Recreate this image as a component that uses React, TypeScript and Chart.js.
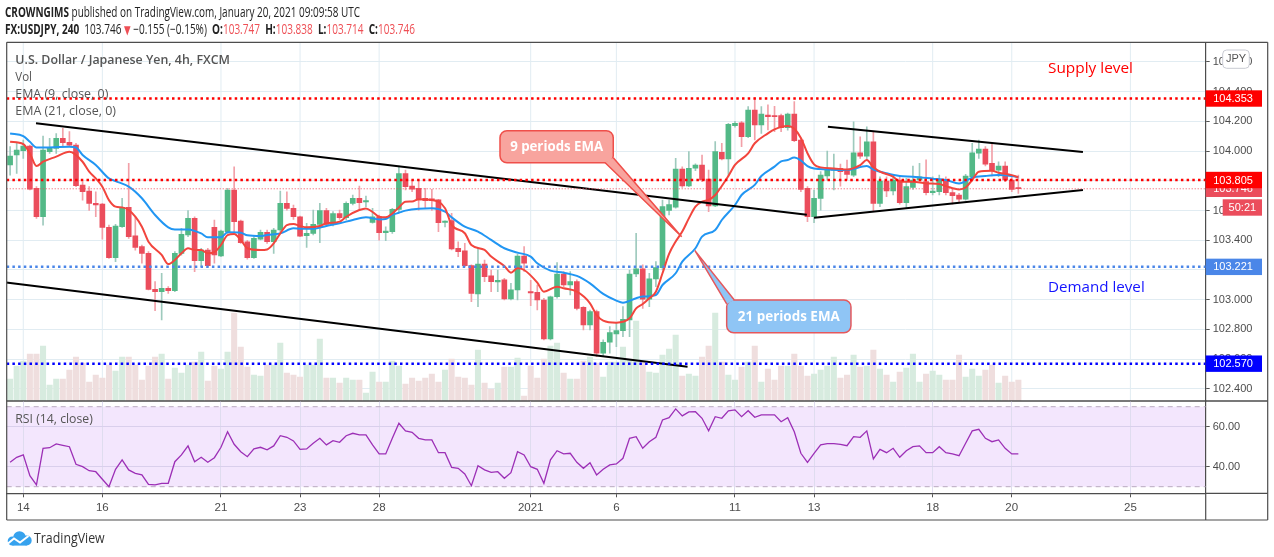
import React, { useEffect, useRef } from "react";
import { Chart, registerables } from "chart.js";

Chart.register(...registerables);

// ---------------- DATA ----------------
const opens = [
  103.906, 103.973, 104.002, 104.033, 103.749, 103.558, 103.996, 104.018, 104.085, 104.058,
  104.040, 103.771, 103.731, 103.648, 103.643, 103.487, 103.283, 103.491, 103.621, 103.429,
  103.357, 103.312, 103.070, 103.054, 103.077, 103.061, 103.312, 103.435, 103.547, 103.263,
  103.334, 103.487, 103.294, 103.458, 103.738, 103.529, 103.390, 103.283, 103.408, 103.453,
  103.390, 103.469, 103.648, 103.614, 103.558, 103.430, 103.446, 103.507, 103.599, 103.509,
  103.580, 103.552, 103.648, 103.682, 103.658, 103.520, 103.558, 103.451, 103.458, 103.608,
  103.849, 103.764, 103.749, 103.682, 103.678, 103.671, 103.520, 103.532, 103.346, 103.328,
  103.229, 103.039, 103.240, 103.160, 103.120, 103.133, 103.005, 103.066, 103.294, 103.055,
  103.050, 102.998, 102.736, 103.020, 103.173, 103.100, 103.122, 102.949, 102.830, 102.920,
  102.640, 102.714, 102.770, 102.792, 102.864, 103.173, 103.207, 103.003, 103.140, 103.216,
  103.600, 103.622, 103.879, 103.765, 103.884, 103.906, 103.812, 103.630, 103.991, 103.946,
  104.170, 104.190, 104.097, 104.276, 104.175, 104.242, 104.238, 104.238, 104.157, 104.249,
  104.074, 103.749, 103.559, 103.681, 103.832, 103.872, 103.883, 103.872, 103.838, 103.988,
  103.966, 104.062, 103.648, 103.798, 103.731, 103.805, 103.652, 103.755, 103.805, 103.794,
  103.720, 103.726, 103.809, 103.720, 103.704, 103.677, 103.827, 103.985, 104.013, 103.917,
  103.872, 103.899, 103.805, 103.747,
];
const highs = [
  104.029, 104.051, 104.074, 104.040, 103.760, 104.100, 104.085, 104.118, 104.152, 104.130,
  104.051, 103.794, 103.760, 103.726, 103.648, 103.502, 103.507, 103.682, 103.917, 103.558,
  103.368, 103.323, 103.122, 103.178, 103.088, 103.323, 103.480, 103.600, 103.558, 103.346,
  103.346, 103.536, 103.469, 103.749, 103.894, 103.536, 103.400, 103.424, 103.469, 103.469,
  103.480, 103.731, 103.726, 103.637, 103.563, 103.514, 103.603, 103.648, 103.614, 103.592,
  103.603, 103.659, 103.704, 103.764, 103.697, 103.614, 103.570, 103.490, 103.614, 103.899,
  103.872, 103.805, 103.805, 103.749, 103.742, 103.675, 103.530, 103.581, 103.390, 103.380,
  103.234, 103.346, 103.267, 103.200, 103.200, 103.144, 103.110, 103.308, 103.357, 103.130,
  103.099, 103.010, 103.025, 103.250, 103.189, 103.189, 103.133, 102.954, 102.931, 102.931,
  102.730, 102.819, 102.842, 102.954, 103.200, 103.447, 103.234, 103.178, 103.256, 103.670,
  103.670, 103.951, 103.894, 103.996, 103.913, 103.973, 103.872, 104.063, 104.052, 104.186,
  104.200, 104.200, 104.298, 104.360, 104.298, 104.310, 104.300, 104.249, 104.255, 104.332,
  104.085, 103.760, 103.737, 103.861, 104.000, 103.980, 103.912, 103.939, 104.197, 104.096,
  104.163, 104.130, 103.827, 103.827, 103.827, 103.827, 103.816, 103.899, 103.917, 103.940,
  103.827, 103.838, 103.827, 103.749, 103.715, 103.843, 104.051, 104.074, 104.029, 104.051,
  103.928, 103.928, 103.838, 103.838,
];
const lows = [
  103.838, 103.850, 103.950, 103.738, 103.547, 103.502, 103.984, 103.984, 104.029, 104.030,
  103.760, 103.670, 103.600, 103.558, 103.408, 103.278, 103.256, 103.487, 103.413, 103.334,
  103.245, 103.066, 102.927, 102.864, 103.043, 103.055, 103.300, 103.424, 103.189, 103.222,
  103.222, 103.245, 103.290, 103.446, 103.458, 103.379, 103.272, 103.278, 103.402, 103.379,
  103.312, 103.458, 103.603, 103.540, 103.424, 103.352, 103.435, 103.384, 103.496, 103.496,
  103.540, 103.536, 103.637, 103.603, 103.626, 103.514, 103.400, 103.397, 103.446, 103.592,
  103.738, 103.726, 103.603, 103.615, 103.600, 103.458, 103.490, 103.335, 103.290, 103.222,
  102.987, 102.954, 103.122, 103.055, 103.055, 102.998, 102.998, 102.998, 103.190, 102.960,
  102.931, 102.730, 102.730, 103.010, 103.088, 103.032, 102.931, 102.797, 102.797, 102.617,
  102.617, 102.640, 102.684, 102.752, 102.752, 103.155, 102.942, 102.954, 103.088, 103.200,
  103.570, 103.615, 103.756, 103.760, 103.868, 103.794, 103.592, 103.626, 103.940, 103.830,
  104.160, 104.030, 104.090, 104.074, 104.119, 104.141, 104.130, 104.130, 104.140, 104.063,
  103.727, 103.525, 103.518, 103.603, 103.805, 103.738, 103.764, 103.805, 103.827, 103.950,
  103.940, 103.592, 103.625, 103.693, 103.704, 103.643, 103.621, 103.742, 103.805, 103.704,
  103.704, 103.704, 103.704, 103.643, 103.659, 103.670, 103.816, 103.950, 103.899, 103.832,
  103.827, 103.794, 103.726, 103.714,
];
const closes = [
  103.966, 104.006, 104.033, 103.744, 103.558, 104.006, 104.018, 104.085, 104.056, 104.040,
  103.767, 103.726, 103.648, 103.637, 103.487, 103.283, 103.496, 103.621, 103.424, 103.352,
  103.312, 103.070, 103.054, 103.077, 103.061, 103.312, 103.440, 103.547, 103.263, 103.334,
  103.229, 103.301, 103.462, 103.738, 103.525, 103.384, 103.283, 103.413, 103.453, 103.390,
  103.469, 103.648, 103.614, 103.558, 103.428, 103.446, 103.507, 103.599, 103.507, 103.580,
  103.552, 103.648, 103.682, 103.652, 103.663, 103.558, 103.451, 103.462, 103.608, 103.849,
  103.760, 103.744, 103.671, 103.666, 103.666, 103.518, 103.527, 103.341, 103.323, 103.229,
  103.043, 103.240, 103.155, 103.122, 103.130, 103.005, 103.066, 103.294, 103.245, 103.045,
  102.998, 102.736, 103.020, 103.173, 103.100, 103.122, 102.942, 102.830, 102.920, 102.640,
  102.714, 102.779, 102.792, 102.868, 103.173, 103.207, 103.003, 103.140, 103.216, 103.626,
  103.640, 103.879, 103.765, 103.884, 103.906, 103.805, 103.630, 103.996, 103.946, 104.179,
  104.186, 104.097, 104.276, 104.175, 104.249, 104.231, 104.231, 104.157, 104.249, 104.070,
  103.742, 103.559, 103.682, 103.838, 103.872, 103.883, 103.861, 103.843, 103.988, 103.966,
  104.062, 103.648, 103.798, 103.731, 103.805, 103.652, 103.760, 103.805, 103.827, 103.720,
  103.731, 103.809, 103.720, 103.699, 103.677, 103.831, 103.988, 104.013, 103.912, 103.872,
  103.899, 103.805, 103.742, 103.746,
];
const volumes = [
  22, 35, 40, 47, 47, 55, 16, 22, 22, 31,
  44, 38, 19, 26, 23, 36, 30, 44, 44, 36,
  21, 35, 44, 47, 22, 33, 28, 36, 39, 49,
  20, 35, 32, 49, 88, 54, 34, 26, 25, 36,
  36, 58, 28, 26, 24, 36, 36, 62, 23, 23,
  18, 23, 21, 21, 8, 29, 19, 19, 40, 35,
  17, 23, 20, 23, 27, 19, 31, 42, 24, 23,
  16, 51, 18, 12, 18, 34, 34, 43, 5, 35,
  23, 42, 55, 58, 28, 22, 22, 40, 44, 38,
  24, 39, 39, 54, 41, 80, 39, 29, 28, 46,
  52, 66, 25, 27, 25, 44, 55, 88, 39, 26,
  21, 34, 39, 55, 19, 32, 21, 35, 35, 47,
  35, 25, 27, 31, 35, 44, 23, 26, 46, 34,
  35, 51, 32, 26, 19, 29, 33, 47, 19, 27,
  30, 26, 21, 21, 46, 24, 32, 25, 31, 36,
  18, 25, 19, 21,
];
const rsiValues = [
  42.2, 44.7, 45.9, 35.5, 30.9, 49.2, 49.5, 51.4, 50.7, 50.0,
  41.2, 40.0, 38.0, 37.5, 33.7, 30.0, 38.7, 43.4, 38.4, 36.7,
  35.9, 31.2, 30.9, 31.7, 31.7, 42.5, 45.9, 50.4, 42.5, 44.7,
  42.2, 44.5, 49.7, 57.5, 51.2, 47.5, 45.0, 48.9, 49.7, 48.4,
  50.4, 55.5, 54.7, 52.9, 48.7, 48.9, 51.7, 54.2, 50.9, 53.0,
  52.2, 55.5, 56.7, 55.9, 55.9, 50.9, 46.4, 46.4, 54.2, 61.7,
  57.9, 57.2, 54.2, 53.4, 53.4, 47.0, 47.0, 39.7, 39.2, 36.4,
  30.5, 40.5, 38.4, 37.2, 37.5, 34.2, 37.0, 47.5, 45.9, 40.0,
  38.7, 31.7, 43.4, 48.0, 46.4, 46.7, 42.2, 39.2, 42.0, 35.9,
  38.7, 40.9, 41.4, 44.2, 54.2, 55.0, 49.2, 52.5, 54.7, 63.4,
  64.5, 68.9, 65.4, 67.4, 67.5, 64.2, 58.0, 65.0, 64.2, 67.9,
  68.4, 65.0, 68.0, 64.7, 65.9, 65.9, 65.9, 62.5, 64.5, 57.5,
  46.7, 42.2, 46.7, 50.9, 51.5, 51.5, 51.2, 50.5, 55.0, 54.7,
  57.9, 43.9, 48.7, 47.0, 49.2, 44.7, 48.0, 50.0, 50.4, 47.0,
  47.0, 50.0, 47.0, 46.4, 45.5, 51.7, 57.9, 58.7, 54.2, 52.5,
  53.4, 49.2, 46.4, 46.4,
];
// [candle index, value]
const ema9Points: [number, number][] = [
  [0, 104.062], [2, 104.047], [3, 103.984], [4, 103.899], [5, 103.928], [7, 103.962], [9, 103.995],
  [11, 103.928], [12, 103.861], [13, 103.816], [14, 103.76], [15, 103.67], [16, 103.626], [17, 103.621],
  [18, 103.603], [19, 103.558], [20, 103.491], [21, 103.39], [23, 103.301], [24, 103.24], [25, 103.267],
  [26, 103.312], [27, 103.346], [28, 103.334], [29, 103.334], [30, 103.312], [31, 103.32], [32, 103.368],
  [33, 103.435], [34, 103.442], [35, 103.402], [36, 103.346], [38, 103.334], [39, 103.338], [40, 103.379],
  [41, 103.446], [42, 103.502], [43, 103.509], [44, 103.496], [45, 103.487], [47, 103.496], [48, 103.514],
  [50, 103.525], [51, 103.558], [53, 103.603], [54, 103.614], [55, 103.59], [56, 103.558], [57, 103.554],
  [58, 103.58], [59, 103.621], [60, 103.659], [61, 103.66], [62, 103.675], [64, 103.671], [66, 103.615],
  [67, 103.503], [69, 103.447], [70, 103.368], [72, 103.335], [73, 103.29], [75, 103.227], [76, 103.182],
  [77, 103.211], [78, 103.2], [80, 103.115], [81, 103.054], [83, 103.088], [84, 103.077], [86, 103.054],
  [88, 102.976], [89, 102.897], [90, 102.86], [92, 102.846], [94, 102.875], [95, 102.942], [96, 102.971],
  [97, 103.01], [98, 103.054], [99, 103.178], [100, 103.308], [101, 103.391], [102, 103.458], [103, 103.547],
  [104, 103.626], [105, 103.66], [106, 103.671], [107, 103.704], [108, 103.765], [109, 103.832], [110, 103.906],
  [112, 103.984], [113, 104.052], [115, 104.119], [116, 104.146], [118, 104.168], [119, 104.15], [120, 104.088],
  [121, 103.985], [122, 103.91], [123, 103.89], [125, 103.883], [127, 103.876], [129, 103.905], [130, 103.939],
  [131, 103.89], [132, 103.861], [134, 103.827], [135, 103.794], [137, 103.794], [139, 103.782], [141, 103.778],
  [142, 103.764], [144, 103.742], [145, 103.755], [146, 103.805], [147, 103.861], [149, 103.867], [150, 103.854],
  [152, 103.838], [153, 103.823],
];
const ema21Points: [number, number][] = [
  [0, 104.118], [2, 104.1], [3, 104.062], [4, 104.024], [6, 104.024], [9, 104.029], [10, 104.024],
  [11, 103.973], [13, 103.906], [15, 103.816], [16, 103.798], [18, 103.76], [20, 103.682], [22, 103.57],
  [24, 103.487], [25, 103.473], [27, 103.473], [29, 103.446], [30, 103.42], [32, 103.42], [33, 103.453],
  [35, 103.451], [36, 103.433], [38, 103.428], [39, 103.435], [41, 103.446], [43, 103.48], [44, 103.478],
  [46, 103.478], [48, 103.496], [50, 103.514], [52, 103.536], [54, 103.554], [56, 103.54], [57, 103.543],
  [58, 103.57], [59, 103.585], [60, 103.599], [62, 103.612], [64, 103.615], [66, 103.592], [67, 103.554],
  [69, 103.491], [71, 103.458], [73, 103.402], [75, 103.346], [77, 103.317], [79, 103.29], [80, 103.245],
  [82, 103.196], [84, 103.182], [86, 103.16], [88, 103.11], [90, 103.039], [92, 102.994], [93, 102.98],
  [95, 103.01], [96, 103.021], [98, 103.032], [99, 103.099], [101, 103.178], [102, 103.256], [104, 103.346],
  [105, 103.424], [107, 103.469], [108, 103.536], [110, 103.637], [111, 103.704], [113, 103.772], [114, 103.832],
  [116, 103.895], [117, 103.93], [118, 103.939], [119, 103.956], [120, 103.936], [121, 103.899], [122, 103.883],
  [124, 103.876], [127, 103.872], [130, 103.899], [131, 103.876], [133, 103.85], [135, 103.832], [137, 103.827],
  [140, 103.814], [142, 103.805], [144, 103.782], [146, 103.821], [148, 103.832], [150, 103.838], [152, 103.832],
  [153, 103.823],
];
const dayTickIdx = [2, 14, 32, 44, 56, 79, 92, 110, 122, 140, 152, 170];
const dayTickLabels = ["14", "16", "21", "23", "28", "2021", "6", "11", "13", "18", "20", "25"];
const priceTicks = [102.4, 102.6, 102.8, 103.0, 103.2, 103.4, 103.6, 103.8, 104.0, 104.2, 104.4, 104.6];
const rsiTicks = [40, 60];
const levelPrices = [104.353, 103.805, 103.221, 102.57];
const levelColors = ["#ff0000", "#ff0000", "#4a86e8", "#0000ff"];
const lastPrice = 103.746;
const countdown = "50:21";
// trend lines: [candle index, price] pairs
const trendLines: [number, number][][] = [
  [[3.93, 104.186], [120.9, 103.571]],
  [[-0.6, 103.116], [102.8, 102.55]],
  [[124.1, 104.163], [162.8, 103.993]],
  [[122.0, 103.552], [162.8, 103.738]],
];
const callout9Box: [number, number][] = [[74.34, 104.136], [91.53, 103.921]];
const callout9Tail: [number, number][] = [[90.3, 103.921], [101.91, 103.424], [91.53, 103.955]];
const callout21Box: [number, number][] = [[108.74, 102.998], [127.6, 102.778]];
const callout21Tail: [number, number][] = [[108.74, 102.972], [103.93, 103.33], [109.9, 102.998]];
const supplyLabelAt: [number, number] = [157.5, 104.556];
const demandLabelAt: [number, number] = [157.5, 103.081];

// ---------------- STYLE ----------------
const FONT_AXIS = '"Liberation Sans", Arial, sans-serif';
const FONT_UI = '"Open Sans", "Liberation Sans", sans-serif';
const UP = "#53b987";
const DOWN = "#eb4d5c";
const GRID = "#e1ecf2";
const FRAME = "#4d4d4d";
const X_MIN = -0.516;
const X_MAX = 181.43;
const PRICE_MIN = 102.319;
const PRICE_MAX = 104.731;
const VOL_MAX = 358.7;
const RSI_MIN = 26.7;
const RSI_MAX = 72.85;

type Seg = { t: string; f: string; c: string };
function drawSegs(ctx: CanvasRenderingContext2D, segs: Seg[], x: number, y: number, targetW?: number, align: "left" | "center" = "left") {
  ctx.save();
  ctx.textBaseline = "middle";
  ctx.textAlign = "left";
  const ws = segs.map((s) => {
    ctx.font = s.f;
    return ctx.measureText(s.t).width;
  });
  const total = ws.reduce((a, b) => a + b, 0);
  const k = targetW ? targetW / total : 1;
  const sx = align === "center" ? x - (total * k) / 2 : x;
  ctx.translate(sx, y);
  ctx.scale(k, 1);
  let cx = 0;
  segs.forEach((s, j) => {
    ctx.font = s.f;
    ctx.fillStyle = s.c;
    ctx.fillText(s.t, cx, 0);
    cx += ws[j];
  });
  ctx.restore();
}

function line(ctx: CanvasRenderingContext2D, x0: number, y0: number, x1: number, y1: number) {
  ctx.beginPath();
  ctx.moveTo(x0, y0);
  ctx.lineTo(x1, y1);
  ctx.stroke();
}

function drawCallout(ctx: CanvasRenderingContext2D, toPx: (i: number, p: number) => [number, number], box: [number, number][], tail: [number, number][], fill: string, stroke: string, text: string, textW: number) {
  const [x0, y0] = toPx(box[0][0], box[0][1]);
  const [x1, y1] = toPx(box[1][0], box[1][1]);
  ctx.save();
  ctx.lineWidth = 1.5;
  ctx.strokeStyle = stroke;
  ctx.fillStyle = fill;
  ctx.beginPath();
  (ctx as any).roundRect(x0, y0, x1 - x0, y1 - y0, 7);
  ctx.fill();
  ctx.stroke();
  const pts = tail.map(([i, p]) => toPx(i, p));
  ctx.beginPath();
  ctx.moveTo(pts[0][0], pts[0][1]);
  ctx.lineTo(pts[1][0], pts[1][1]);
  ctx.lineTo(pts[2][0], pts[2][1]);
  ctx.closePath();
  ctx.fill();
  ctx.beginPath();
  ctx.moveTo(pts[0][0], pts[0][1]);
  ctx.lineTo(pts[1][0], pts[1][1]);
  ctx.lineTo(pts[2][0], pts[2][1]);
  ctx.stroke();
  ctx.restore();
  drawSegs(ctx, [{ t: text, f: `bold 14px ${FONT_UI}`, c: "#ffffff" }], (x0 + x1) / 2, (y0 + y1) / 2 + 0.5, textW, "center");
}

const isUp = (i: number) => closes[i] >= opens[i];

const mainPlugin = {
  id: "mainDecor",
  beforeDatasetsDraw(chart: any) {
    const { ctx, chartArea: a, scales } = chart;
    ctx.save();
    ctx.strokeStyle = GRID;
    ctx.lineWidth = 1;
    dayTickIdx.forEach((d) => {
      const x = scales.x.getPixelForValue(d);
      if (x > a.left && x < a.right) line(ctx, x, a.top, x, a.bottom);
    });
    ctx.restore();
  },
  afterDatasetsDraw(chart: any) {
    const { ctx, chartArea: a, scales } = chart;
    const toPx = (i: number, p: number): [number, number] => [scales.x.getPixelForValue(i), scales.y.getPixelForValue(p)];
    ctx.save();
    ctx.beginPath();
    ctx.rect(a.left, a.top, a.right - a.left, a.bottom - a.top);
    ctx.clip();
    levelPrices.forEach((p, k) => {
      const y = scales.y.getPixelForValue(p);
      ctx.strokeStyle = levelColors[k];
      ctx.lineWidth = 2.5;
      ctx.setLineDash([2.5, 3.2]);
      line(ctx, a.left, y, a.right, y);
    });
    const yl = scales.y.getPixelForValue(lastPrice);
    ctx.strokeStyle = DOWN;
    ctx.lineWidth = 1;
    ctx.setLineDash([1, 2]);
    line(ctx, a.left, yl, a.right, yl);
    ctx.setLineDash([]);
    drawCallout(ctx, toPx, callout9Box, callout9Tail, "#f8a49e", "#ef4f4a", "9 periods EMA", 93);
    drawCallout(ctx, toPx, callout21Box, callout21Tail, "#8fc5f5", "#e5585c", "21 periods EMA", 102);
    const [sx, sy] = toPx(supplyLabelAt[0], supplyLabelAt[1]);
    drawSegs(ctx, [{ t: "Supply level", f: `15px ${FONT_UI}`, c: "#ff0000" }], sx, sy, 85);
    const [dx, dy] = toPx(demandLabelAt[0], demandLabelAt[1]);
    drawSegs(ctx, [{ t: "Demand level", f: `15px ${FONT_UI}`, c: "#1414ff" }], dx, dy, 96.7);
    ctx.restore();
  },
  afterDraw(chart: any) {
    const { ctx, chartArea: a, scales } = chart;
    const tagR = a.right + 56.3;
    const tag = (yc: number, bg: string, text: string, x0 = a.right) => {
      ctx.fillStyle = bg;
      ctx.fillRect(x0, yc - 8.2, tagR - x0, 16.4);
      ctx.fillStyle = "#ffffff";
      ctx.font = `11px ${FONT_AXIS}`;
      ctx.textBaseline = "middle";
      ctx.textAlign = x0 === a.right ? "left" : "center";
      ctx.fillText(text, x0 === a.right ? a.right + 7.5 : (x0 + tagR) / 2, yc + 0.5);
    };
    ctx.save();
    const yl = scales.y.getPixelForValue(lastPrice);
    tag(yl, DOWN, lastPrice.toFixed(3));
    tag(yl + 18.7, DOWN, countdown, a.right + 17);
    levelPrices.forEach((p, k) => tag(scales.y.getPixelForValue(p), levelColors[k], p.toFixed(3)));
    ctx.fillStyle = "#ffffff";
    ctx.strokeStyle = "#c9cbd3";
    ctx.lineWidth = 1;
    ctx.beginPath();
    (ctx as any).roundRect(a.right + 17, a.top + 7.7, 26.6, 18.3, 4);
    ctx.fill();
    ctx.stroke();
    ctx.fillStyle = "#555";
    ctx.font = `11px ${FONT_AXIS}`;
    ctx.textAlign = "center";
    ctx.textBaseline = "middle";
    ctx.fillText("JPY", a.right + 30.3, a.top + 17);
    ctx.restore();

    const red = "#ee4f55";
    const dark = "#222";
    drawSegs(ctx, [
      { t: "CROWNGIMS", f: `bold 14px ${FONT_UI}`, c: dark },
      { t: " published on TradingView.com, January 20, 2021 09:09:58 UTC", f: `14px ${FONT_UI}`, c: dark },
    ], 5, 13.5, 355);
    drawSegs(ctx, [
      { t: "FX:USDJPY, 240", f: `bold 14px ${FONT_UI}`, c: dark },
      { t: "  103.746 ", f: `14px ${FONT_UI}`, c: dark },
      { t: "▼", f: `12px "DejaVu Sans", sans-serif`, c: red },
      { t: " −0.155 (−0.15%)  ", f: `14px ${FONT_UI}`, c: dark },
      { t: "O:", f: `bold 14px ${FONT_UI}`, c: dark },
      { t: "103.747", f: `14px ${FONT_UI}`, c: red },
      { t: "  H:", f: `bold 14px ${FONT_UI}`, c: dark },
      { t: "103.838", f: `14px ${FONT_UI}`, c: red },
      { t: "  L:", f: `bold 14px ${FONT_UI}`, c: dark },
      { t: "103.714", f: `14px ${FONT_UI}`, c: red },
      { t: "  C:", f: `bold 14px ${FONT_UI}`, c: dark },
      { t: "103.746", f: `14px ${FONT_UI}`, c: red },
    ], 5, 30.5, 410);
    const lg = "#555";
    drawSegs(ctx, [{ t: "U.S. Dollar / Japanese Yen, 4h, FXCM", f: `600 13px ${FONT_UI}`, c: lg }], a.left + 8.6, a.top + 18.4, 214.7);
    drawSegs(ctx, [{ t: "Vol", f: `13px ${FONT_UI}`, c: lg }], a.left + 8.6, a.top + 35.4, 16.7);
    drawSegs(ctx, [{ t: "EMA (9, close, 0)", f: `13px ${FONT_UI}`, c: lg }], a.left + 8.6, a.top + 52, 93);
    drawSegs(ctx, [{ t: "EMA (21, close, 0)", f: `13px ${FONT_UI}`, c: lg }], a.left + 8.6, a.top + 68.7, 100.7);

    ctx.save();
    ctx.strokeStyle = FRAME;
    ctx.lineWidth = 1.2;
    const R = a.right + 62;
    line(ctx, a.left, a.top, R, a.top);
    line(ctx, a.left, a.top, a.left, a.bottom);
    line(ctx, R, a.top, R, a.bottom);
    line(ctx, a.left, a.bottom, R, a.bottom);
    ctx.restore();
  },
};

const rsiPlugin = {
  id: "rsiDecor",
  beforeDraw(chart: any) {
    const { ctx, chartArea: a, scales } = chart;
    const y70 = scales.y.getPixelForValue(70);
    const y30 = scales.y.getPixelForValue(30);
    ctx.save();
    ctx.fillStyle = "#f3e6fd";
    ctx.fillRect(a.left, y70, a.right - a.left, y30 - y70);
    ctx.restore();
  },
  beforeDatasetsDraw(chart: any) {
    const { ctx, chartArea: a, scales } = chart;
    ctx.save();
    ctx.strokeStyle = "#b9abc0";
    ctx.lineWidth = 1;
    ctx.setLineDash([5, 4]);
    [70, 30].forEach((v) => {
      const y = scales.y.getPixelForValue(v);
      line(ctx, a.left, y, a.right, y);
    });
    ctx.restore();
  },
  afterDraw(chart: any) {
    const { ctx, chartArea: a } = chart;
    drawSegs(ctx, [{ t: "RSI (14, close)", f: `13px ${FONT_UI}`, c: "#555" }], a.left + 8.6, a.top + 18, 77.5);
    ctx.save();
    ctx.strokeStyle = FRAME;
    ctx.lineWidth = 1.2;
    const R = a.right + 62;
    const B = a.bottom + 26.7;
    line(ctx, a.left, a.top, R, a.top);
    line(ctx, a.left, a.top, a.left, B);
    line(ctx, R, a.top, R, B);
    line(ctx, a.left, B, R, B);
    line(ctx, a.right, a.bottom, a.right, B);
    line(ctx, a.right, a.bottom, R, a.bottom);
    ctx.restore();
    const cy = B + 19;
    ctx.save();
    ctx.fillStyle = "#36a2ee";
    ctx.beginPath();
    ctx.arc(12.3, cy + 2, 4.6, 0, Math.PI * 2);
    ctx.arc(19.5, cy - 1.5, 6.3, 0, Math.PI * 2);
    ctx.arc(26.7, cy + 1.5, 5, 0, Math.PI * 2);
    ctx.fill();
    ctx.fillRect(12.3, cy + 1, 14.4, 5.6);
    ctx.strokeStyle = "#ffffff";
    ctx.lineWidth = 2;
    ctx.beginPath();
    ctx.moveTo(8, cy + 4.5);
    ctx.lineTo(14, cy - 0.5);
    ctx.lineTo(20, cy + 3.5);
    ctx.lineTo(28.5, cy - 3);
    ctx.stroke();
    ctx.restore();
    drawSegs(ctx, [{ t: "TradingView", f: `15px ${FONT_UI}`, c: "#333" }], 34, cy, 70.7);
  },
};

export default function App() {
  const refA = useRef<HTMLCanvasElement>(null);
  const refB = useRef<HTMLCanvasElement>(null);

  useEffect(() => {
    Chart.defaults.font.family = FONT_AXIS;
    const idx = opens.map((_, i) => i);
    const trendSets = trendLines.map((tl) => ({
      type: "line",
      data: tl.map(([x, y]) => ({ x, y })),
      borderColor: "#000",
      borderWidth: 2,
      pointRadius: 0,
      order: 1,
    }));
    const chartA = new Chart(refA.current as HTMLCanvasElement, {
      type: "bar",
      data: {
        datasets: [
          ...trendSets,
          {
            type: "line",
            data: ema9Points.map(([x, y]) => ({ x, y })),
            borderColor: "#f2453d",
            borderWidth: 2,
            pointRadius: 0,
            cubicInterpolationMode: "monotone",
            order: 2,
          },
          {
            type: "line",
            data: ema21Points.map(([x, y]) => ({ x, y })),
            borderColor: "#2196f3",
            borderWidth: 2,
            pointRadius: 0,
            cubicInterpolationMode: "monotone",
            order: 3,
          },
          {
            type: "bar",
            data: idx.map((i) => ({ x: i, y: [Math.min(opens[i], closes[i]), Math.max(opens[i], closes[i])] })),
            backgroundColor: idx.map((i) => (isUp(i) ? UP : DOWN)),
            barThickness: 5,
            minBarLength: 1.2,
            grouped: false,
            borderWidth: 0,
            borderSkipped: false,
            order: 4,
          },
          {
            type: "bar",
            data: idx.map((i) => ({ x: i, y: [lows[i], highs[i]] })),
            backgroundColor: idx.map((i) => (isUp(i) ? "#9ecabd" : "#f2a0a8")),
            barThickness: 1,
            grouped: false,
            borderWidth: 0,
            order: 5,
          },
          {
            type: "bar",
            data: idx.map((i) => ({ x: i, y: volumes[i] })),
            backgroundColor: idx.map((i) => (isUp(i) ? "#d7ebdf" : "#efdede")),
            barThickness: 5.4,
            grouped: false,
            borderWidth: 0,
            yAxisID: "yv",
            order: 6,
          },
        ] as any,
      },
      options: {
        responsive: false,
        animation: false,
        events: [],
        layout: { padding: { left: 6.7, top: 42.3, right: 6.3, bottom: 19 } },
        plugins: { legend: { display: false }, tooltip: { enabled: false } },
        scales: {
          x: { type: "linear", min: X_MIN, max: X_MAX, offset: false, display: false, grid: { offset: false } },
          y: {
            position: "right",
            min: PRICE_MIN,
            max: PRICE_MAX,
            afterFit: (s: any) => {
              s.width = 62;
            },
            afterBuildTicks: (s: any) => {
              s.ticks = priceTicks.map((v) => ({ value: v }));
            },
            ticks: {
              autoSkip: false,
              callback: (v: any) => Number(v).toFixed(3),
              font: { family: FONT_AXIS, size: 11 },
              color: "#4d4d4d",
              padding: 3,
            },
            grid: { color: GRID, tickLength: 4, tickColor: "#555" },
            border: { color: FRAME, width: 1.2 },
          },
          yv: { display: false, min: 0, max: VOL_MAX },
        },
      } as any,
      plugins: [mainPlugin],
    });

    const chartB = new Chart(refB.current as HTMLCanvasElement, {
      type: "line",
      data: {
        datasets: [
          {
            data: rsiValues.map((v, i) => ({ x: i, y: v })),
            borderColor: "#9c2fb6",
            borderWidth: 1.3,
            pointRadius: 0,
          },
        ],
      },
      options: {
        responsive: false,
        animation: false,
        events: [],
        layout: { padding: { left: 6.7, top: 20, right: 6.3, bottom: 37 } },
        plugins: { legend: { display: false }, tooltip: { enabled: false } },
        scales: {
          x: {
            type: "linear",
            position: "bottom",
            min: X_MIN,
            max: X_MAX,
            offset: false,
            afterFit: (s: any) => {
              s.height = 26.7;
            },
            afterBuildTicks: (s: any) => {
              s.ticks = dayTickIdx.map((v) => ({ value: v }));
            },
            ticks: {
              autoSkip: false,
              maxRotation: 0,
              callback: (v: any) => {
                const k = dayTickIdx.indexOf(Number(v));
                return k >= 0 ? dayTickLabels[k] : "";
              },
              font: { family: FONT_AXIS, size: 11.5 },
              color: "#4d4d4d",
              padding: 4,
            },
            grid: { color: "#dfdcef", tickLength: 4, tickColor: "#555" },
            border: { color: FRAME, width: 1.2 },
          },
          y: {
            position: "right",
            min: RSI_MIN,
            max: RSI_MAX,
            afterFit: (s: any) => {
              s.width = 62;
            },
            afterBuildTicks: (s: any) => {
              s.ticks = rsiTicks.map((v) => ({ value: v }));
            },
            ticks: {
              autoSkip: false,
              callback: (v: any) => Number(v).toFixed(2),
              font: { family: FONT_AXIS, size: 11 },
              color: "#4d4d4d",
              padding: 3,
            },
            grid: { color: "#d9cfec", tickLength: 4, tickColor: "#555" },
            border: { color: FRAME, width: 1.2 },
          },
        },
      } as any,
      plugins: [rsiPlugin],
    });

    return () => {
      chartA.destroy();
      chartB.destroy();
    };
  }, []);

  return (
    <div style={{ position: "absolute", left: 0, top: 0, width: 1274, height: 557, background: "#ffffff", overflow: "hidden" }}>
      <canvas ref={refA} width={1274} height={420} style={{ position: "absolute", left: 0, top: 0, width: 1274, height: 420 }} />
      <canvas ref={refB} width={1274} height={176} style={{ position: "absolute", left: 0, top: 381, width: 1274, height: 176 }} />
    </div>
  );
}
